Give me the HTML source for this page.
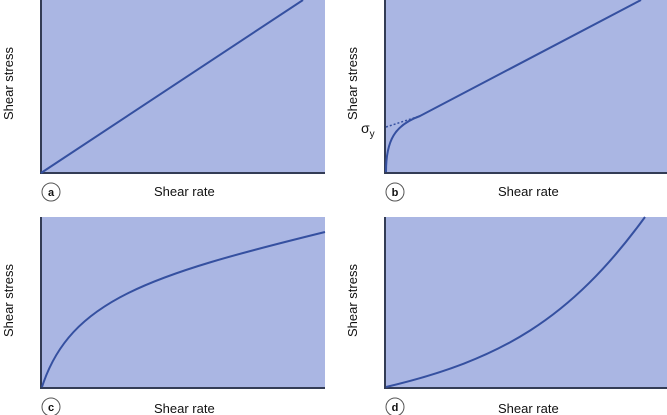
<!DOCTYPE html>
<html><head><style>body{margin:0;background:#fff}svg{display:block}text{font-family:"Liberation Sans",sans-serif;fill:#111}</style></head><body>
<svg width="667" height="415" viewBox="0 0 667 415">
<g fill="#aab6e3">
<rect x="41" y="0" width="284" height="173"/>
<rect x="385" y="0" width="282" height="173"/>
<rect x="41" y="217" width="284" height="171"/>
<rect x="385" y="217" width="282" height="171"/>
</g>
<g stroke="#333c55" stroke-width="2" fill="none">
<path d="M41,0V173H325"/>
<path d="M385,0V173H667"/>
<path d="M41,217V388H325"/>
<path d="M385,217V388H667"/>
</g>
<g stroke="#3550a0" stroke-width="2" fill="none">
<path d="M41,173L303,0"/>
<path d="M386,172C386,140 395,125 420,116L641,0"/>
<path d="M386,127L420,116" stroke-dasharray="2,2" stroke-width="1.5"/>
<path d="M42,387C70,300 150,275 325,232"/>
<path d="M386,387C500,360 570,320 645,217"/>
</g>
<g font-size="13">
<text x="154" y="196">Shear rate</text>
<text x="498" y="196">Shear rate</text>
<text x="154" y="413">Shear rate</text>
<text x="498" y="413">Shear rate</text>
<text transform="translate(13,120) rotate(-90)">Shear stress</text>
<text transform="translate(357,120) rotate(-90)">Shear stress</text>
<text transform="translate(13,337) rotate(-90)">Shear stress</text>
<text transform="translate(357,337) rotate(-90)">Shear stress</text>
<text x="361" y="133" font-size="14">σ<tspan font-size="10" dy="4">y</tspan></text>
</g>
<g fill="#fff" stroke="#555" stroke-width="1">
<circle cx="51" cy="192" r="9"/><circle cx="395" cy="192" r="9"/>
<circle cx="51" cy="407" r="9"/><circle cx="395" cy="407" r="9"/>
</g>
<g font-size="11" font-weight="bold" text-anchor="middle">
<text x="51" y="196">a</text><text x="395" y="196">b</text>
<text x="51" y="411">c</text><text x="395" y="411">d</text>
</g>
</svg>
</body></html>
